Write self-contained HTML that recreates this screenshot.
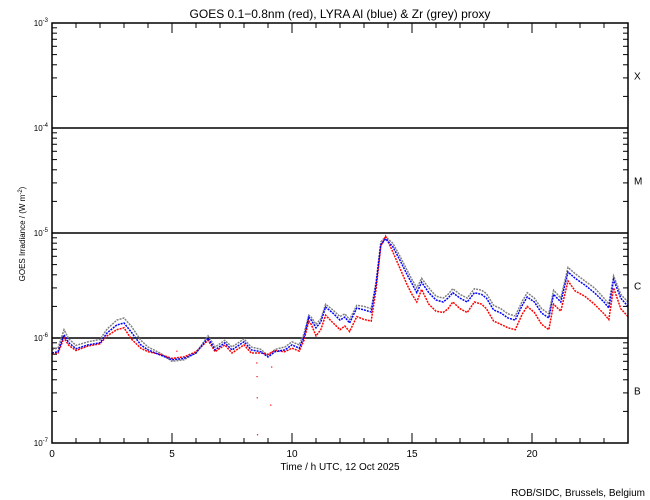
<!DOCTYPE html>
<html><head><meta charset="utf-8"><style>
body{margin:0;background:#fff;}
svg{display:block;font-family:"Liberation Sans",sans-serif;}
</style></head><body>
<svg id="chart" width="650" height="500" viewBox="0 0 650 500">
<rect x="0" y="0" width="650" height="500" fill="#fff"/>
<text x="340" y="18" text-anchor="middle" font-size="12">GOES 0.1−0.8nm (red), LYRA Al (blue) &amp; Zr (grey) proxy</text>
<text transform="translate(25,234) rotate(-90)" text-anchor="middle" font-size="8">GOES Irradiance / (W m<tspan dy="-3" font-size="6">-2</tspan><tspan dy="3">)</tspan></text>
<text x="340" y="470" text-anchor="middle" font-size="10">Time / h UTC, 12 Oct 2025</text>
<text x="645" y="496" text-anchor="end" font-size="10">ROB/SIDC, Brussels, Belgium</text>
<g id="grid"></g>
<g id="series"></g>
<rect x="52" y="23" width="576" height="420" fill="none" stroke="#000" stroke-width="1.5"/>
</svg>
<script>
const hours=[0,.25,.5,.7,1,1.5,2,2.3,2.7,3,3.3,3.7,4,4.5,5,5.5,6,6.5,6.8,7.2,7.5,8,8.3,8.7,9,9.3,9.7,10,10.3,10.5,10.7,10.8,11,11.2,11.4,11.7,12,12.2,12.4,12.7,13,13.3,13.5,13.7,13.9,14.2,14.5,14.8,15,15.2,15.4,15.7,16,16.3,16.5,16.7,17,17.3,17.6,17.9,18.1,18.4,18.7,19,19.3,19.6,19.8,20.1,20.4,20.7,20.9,21.2,21.5,21.8,22.2,22.6,23,23.2,23.4,23.7,24];
// flux in units of 1e-6 W/m^2
const blueVals=[.72,.74,1.07,.9,.79,.86,.9,1.12,1.33,1.39,1.14,.86,.77,.69,.62,.64,.72,1.0,.77,.9,.77,.92,.77,.74,.66,.74,.77,.86,.8,1.02,1.58,1.48,1.25,1.42,1.97,1.73,1.48,1.58,1.39,1.93,1.85,1.77,3.2,7.7,8.8,7.4,5.5,4.0,3.3,2.7,3.4,2.7,2.3,2.2,2.4,2.7,2.4,2.2,2.7,2.6,2.4,1.85,1.73,1.55,1.48,2.06,2.46,2.2,1.73,1.55,2.6,2.2,4.25,3.7,3.2,2.7,2.2,1.93,3.6,2.4,2.0];
const redVals=[.70,.72,1.0,.85,.76,.84,.88,1.05,1.2,1.25,.98,.8,.74,.7,.64,.66,.74,.95,.74,.86,.72,.86,.72,.72,.7,.76,.74,.8,.75,.95,1.45,1.35,1.05,1.2,1.65,1.4,1.2,1.3,1.15,1.6,1.5,1.45,2.9,7.5,9.3,6.6,4.6,3.2,2.6,2.2,2.9,2.1,1.8,1.75,1.9,2.2,1.9,1.75,2.2,2.1,1.9,1.45,1.35,1.25,1.2,1.7,2.0,1.75,1.35,1.2,2.1,1.8,3.5,2.8,2.5,2.1,1.7,1.5,3.0,1.9,1.6];
const greyVals=[.78,.80,1.2,.98,.85,.92,.97,1.22,1.48,1.55,1.3,.95,.82,.72,.6,.62,.72,1.05,.82,.95,.82,.98,.82,.78,.68,.78,.82,.92,.86,1.1,1.65,1.58,1.35,1.52,2.1,1.85,1.6,1.7,1.5,2.05,2.0,1.9,3.4,8.2,9.2,8.0,6.0,4.4,3.6,3.0,3.7,3.0,2.5,2.4,2.6,2.95,2.6,2.4,2.95,2.85,2.65,2.05,1.9,1.7,1.62,2.25,2.7,2.4,1.9,1.7,2.85,2.4,4.7,4.1,3.5,3.0,2.4,2.1,3.9,2.6,2.2];
const strayHours=[5.2,8.53,8.54,8.55,8.56,9.11,9.15];
const strayVals=[.75,.58,.43,.27,.12,.23,.53];
const xTickLabels=["0","5","10","15","20"];
const classLabels=["X","M","C","B"];

const NS="http://www.w3.org/2000/svg";
const X0=52,X1=628,Y0=443,Y1=23;
const xs=h=>X0+(X1-X0)*h/24;
const ys=f=>{const e=Math.log10(f*1e-6);return Y0-(e+7)/4*(Y0-Y1);};
function mk(tag,attrs,parent){const el=document.createElementNS(NS,tag);for(const k in attrs)el.setAttribute(k,attrs[k]);parent.appendChild(el);return el;}
const grid=document.getElementById('grid');
const series=document.getElementById('series');
// horizontal class lines
[1e-4,1e-5,1e-6].forEach(v=>{const y=ys(v*1e6);
 const l=mk('line',{x1:X0,x2:X1,y1:y,y2:y,stroke:'#000','stroke-width':1.5},grid);
 
 });
// y ticks
for(let d=-7;d<=-3;d++){
 const yD=ys(Math.pow(10,d)*1e6);
 if(d>-7&&d<-3){}
 mk('line',{x1:X0,x2:X0+10,y1:yD,y2:yD,stroke:'#000'},grid);
 mk('line',{x1:X1-10,x2:X1,y1:yD,y2:yD,stroke:'#000'},grid);
 const t=mk('text',{x:X0-4,y:yD+3,'text-anchor':'end','font-size':8},grid);
 
 
 t.innerHTML='10<tspan dy="-4" font-size="6">'+(d)+'</tspan>';
 if(d<-3){for(let m=2;m<=9;m++){const y=ys(m*Math.pow(10,d)*1e6);
  mk('line',{x1:X0,x2:X0+5,y1:y,y2:y,stroke:'#000'},grid);
  mk('line',{x1:X1-5,x2:X1,y1:y,y2:y,stroke:'#000'},grid);}}
}
// x ticks
for(let h=0;h<=24;h++){const x=xs(h);const L=h%5===0?10:5;
 mk('line',{x1:x,x2:x,y1:Y0,y2:Y0-L,stroke:'#000'},grid);
 mk('line',{x1:x,x2:x,y1:Y1,y2:Y1+L,stroke:'#000'},grid);}
xTickLabels.forEach(s=>{const t=mk('text',{x:xs(+s),y:457,'text-anchor':'middle','font-size':10},grid);
 
 
 t.textContent=s;});
classLabels.forEach((s,i)=>{const y=ys(Math.pow(10,-3.5-i)*1e6);
 const t=mk('text',{x:634,y:y+4,'font-size':10},grid);
 
 
 t.textContent=s;});
function line(vals,color,name){
 const pts=hours.map((h,i)=>xs(h).toFixed(1)+','+ys(vals[i]).toFixed(1)).join(' ');
 const p=mk('polyline',{points:pts,fill:'none',stroke:color,'stroke-width':1.5,'stroke-dasharray':'2 1'},series);
 
 
}
line(greyVals,'#808080','zr-grey-series');
line(redVals,'#ff0000','goes-red-series');
line(blueVals,'#0000ff','al-blue-series');
strayHours.forEach((h,i)=>{const r=mk('rect',{x:xs(h)-0.5,y:ys(strayVals[i])-0.5,width:1.2,height:1.2,fill:'#f00'},series);
 
 });
</script>
</body></html>
